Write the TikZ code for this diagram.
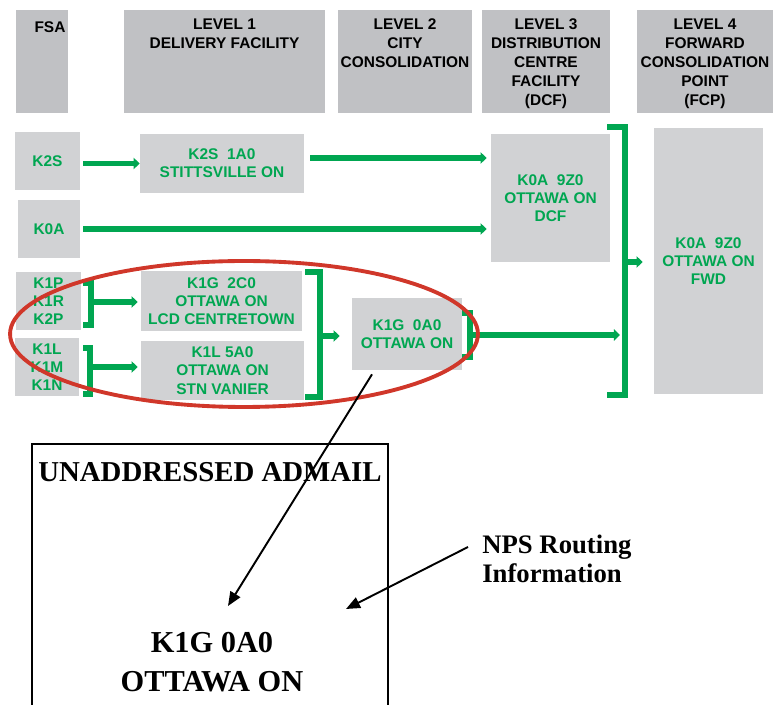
\documentclass[tikz,border=0pt]{standalone}
\usepackage{fontspec}
\setmainfont{Liberation Serif}
\setsansfont{Liberation Sans}
\usetikzlibrary{positioning,arrows.meta,calc}

\definecolor{hdrgray}{RGB}{192,193,196}
\definecolor{boxgray}{RGB}{209,210,212}
\definecolor{routegreen}{RGB}{0,166,81}
\definecolor{ringred}{RGB}{208,55,42}

\begin{document}
\begin{tikzpicture}[
    x=0.02cm,
    y=-0.02cm,
    hdr/.style={
        fill=hdrgray,
        minimum height=2.06cm,
        inner sep=0pt
    },
    htxt/.style={
        font=\sffamily\bfseries\fontsize{8.8}{10.8}\selectfont,
        align=center,
        inner sep=0pt
    },
    fac/.style={
        fill=boxgray,
        inner sep=0pt,
        align=center,
        text=routegreen,
        font=\sffamily\bfseries\fontsize{8.8}{10.4}\selectfont
    },
    garrow/.style={-{Triangle[length=3.5pt,width=6.5pt]}, routegreen, line width=3.2pt},
    gbrk/.style={routegreen, line width=3.2pt},
    ring/.style={ringred, line width=2.2pt},
    ptr/.style={-{Triangle[length=8pt,width=6.5pt]}, line width=1.1pt},
    big/.style={font=\bfseries\fontsize{17.3}{21.8}\selectfont, align=center, inner sep=0pt},
    npstxt/.style={font=\bfseries\fontsize{15.2}{16.4}\selectfont, align=left, inner sep=0pt}
]
\useasboundingbox (0,0) rectangle (775,705);

% ============================================================
% HEADERS
% ============================================================
\node[hdr, minimum width=1.04cm] (hfsa)  at ( 42.0, 61.5) {};
\node[hdr, minimum width=4.02cm] (hlvl1) at (224.5, 61.5) {};
\node[hdr, minimum width=2.68cm] (hlvl2) at (405.0, 61.5) {};
\node[hdr, minimum width=2.56cm] (hlvl3) at (546.0, 61.5) {};
\node[hdr, minimum width=2.72cm] (hlvl4) at (705.0, 61.5) {};

\node[htxt, below=0.24cm of hfsa.north, xshift=0.16cm] (tfsa) {FSA};
\node[htxt, below=0.17cm of hlvl1.north] (tlvl1) {LEVEL 1\\DELIVERY FACILITY};
\node[htxt, below=0.17cm of hlvl2.north] (tlvl2) {LEVEL 2\\CITY\\CONSOLIDATION};
\node[htxt, below=0.17cm of hlvl3.north] (tlvl3) {LEVEL 3\\DISTRIBUTION\\CENTRE\\FACILITY\\(DCF)};
\node[htxt, below=0.17cm of hlvl4.north] (tlvl4) {LEVEL 4\\FORWARD\\CONSOLIDATION\\POINT\\(FCP)};

% ============================================================
% FSA AND FACILITIES
% ============================================================
\node[fac, minimum width=1.30cm, minimum height=1.16cm] (fk2s) at ( 47.5, 161.0) {K2S};
\node[fac, minimum width=1.24cm, minimum height=1.18cm] (fk0a) at ( 49.0, 229.0) {K0A};
\node[fac, minimum width=1.30cm, minimum height=1.18cm] (fk1p) at ( 48.5, 301.0) {K1P\\K1R\\K2P};
\node[fac, minimum width=1.28cm, minimum height=1.18cm] (fk1l) at ( 47.0, 367.0) {K1L\\K1M\\K1N};

% level 1
\node[fac, minimum width=3.28cm, minimum height=1.18cm] (dstit) at (222.0, 163.5) {K2S\ \ 1A0\\STITTSVILLE ON};
\node[fac, minimum width=3.22cm, minimum height=1.20cm] (dlcd)  at (221.5, 301.0) {K1G\ \ 2C0\\OTTAWA ON\\LCD CENTRETOWN};
\node[fac, minimum width=3.26cm, minimum height=1.18cm] (dvan)  at (222.5, 370.5) {K1L 5A0\\OTTAWA ON\\STN VANIER};

% level 2
\node[fac, minimum width=2.20cm, minimum height=1.44cm] (ck1g) at (407.0, 334.0) {K1G\ \ 0A0\\OTTAWA ON};

% level 3 / level 4
\node[fac, minimum width=2.38cm, minimum height=2.56cm] (dcf) at (550.5, 198.0) {K0A\ \ 9Z0\\OTTAWA ON\\DCF};
\node[fac, minimum width=2.18cm, minimum height=5.32cm] (fcp) at (708.5, 261.0) {K0A\ \ 9Z0\\OTTAWA ON\\FWD};

% ============================================================
% BRACKETS
% ============================================================
\draw[gbrk] (83,283) -- (91,283) -- (91,325) -- (83,325);
\draw[gbrk] (83,348) -- (90,348) -- (90,394) -- (83,394);
\draw[gbrk] (305,272) -- (320,272) -- (320,397) -- (305,397);
\draw[gbrk] (462,313) -- (470,313) -- (470,357) -- (462,357);
\draw[gbrk] (607,127) -- (625,127) -- (625,395) -- (607,395);

\coordinate (b1) at (91,302);
\coordinate (b2) at (90,367);
\coordinate (b3) at (320,336);
\coordinate (b4) at (470,335);
\coordinate (b5) at (625,262);
\coordinate (s1) at ([xshift=0.12cm,yshift=0.11cm]dstit.east);

% ============================================================
% ROUTES
% ============================================================
\draw[garrow, shorten <=0.06cm] (fk2s.east |- dstit.west) -- (dstit.west);
\draw[garrow, shorten >=0.08cm] (s1) -- (s1 -| dcf.west);
\draw[garrow, shorten <=0.06cm, shorten >=0.08cm] (fk0a.east) -- (fk0a.east -| dcf.west);
\draw[garrow, shorten >=0.06cm] (b1) -- (b1 -| dlcd.west);
\draw[garrow, shorten >=0.06cm] (b2) -- (b2 -| dvan.west);
\draw[garrow, shorten >=0.24cm] (b3) -- (b3 -| ck1g.west);
\draw[garrow, shorten >=0.10cm] (b4) -- (b4 -| b5);
\draw[garrow, shorten >=0.22cm] (b5) -- (b5 -| fcp.west);

% ring round the local routes
\draw[ring] (244,334) ellipse [x radius=4.68cm, y radius=1.46cm];

% ============================================================
% ADMAIL LABEL
% ============================================================
\node[draw, line width=1.4pt, minimum width=7.12cm, minimum height=5.6cm, inner sep=0pt] (admail) at (210,584) {};
\node[big, font=\bfseries\fontsize{16.4}{20}\selectfont] (atitle) at (210,472.5) {UNADDRESSED ADMAIL};
\node[big] (aaddr) at (212,662) {K1G 0A0\\OTTAWA ON};
\node[npstxt, anchor=north west] (nps) at (482,535) {NPS Routing\\Information};

\coordinate (tipA) at (228,606);
\coordinate (tipB) at (346,609);
\draw[ptr] ([xshift=-0.7cm,yshift=-0.08cm]ck1g.south) -- (tipA);
\draw[ptr] ($(nps.north west)+(-14,12)$) -- (tipB);

\end{tikzpicture}
\end{document}
